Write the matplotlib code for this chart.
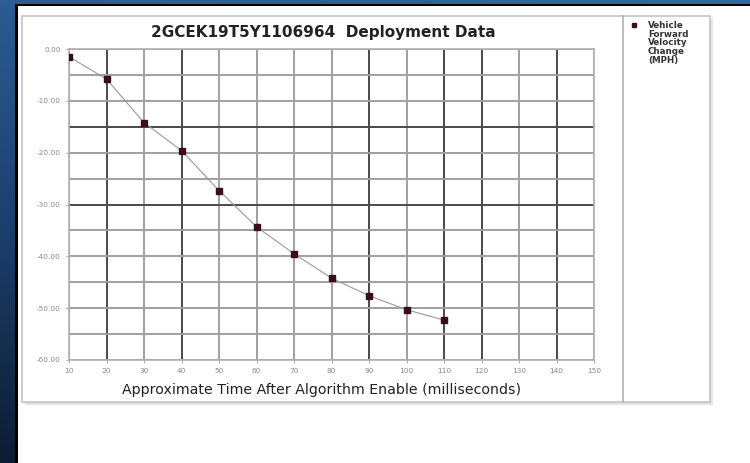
import numpy as np
import matplotlib
matplotlib.use("Agg")
import matplotlib.pyplot as plt
from matplotlib.patches import Rectangle
from matplotlib.lines import Line2D

# data
times = [10, 20, 30, 40, 50, 60, 70, 80, 90, 100, 110]
dv = [-1.5, -5.8, -14.2, -19.6, -27.3, -34.3, -39.5, -44.2, -47.6, -50.3, -52.3]
x_ticks = list(range(10, 151, 10))
y_ticks = [0, -10, -20, -30, -40, -50, -60]
title = "2GCEK19T5Y1106964  Deployment Data"
xlabel = "Approximate Time After Algorithm Enable (milliseconds)"
legend_label = "Vehicle\nForward\nVelocity\nChange\n(MPH)"

W, H = 750, 463
fig = plt.figure(figsize=(7.5, 4.63), dpi=100)
fig.patch.set_facecolor("white")

def fr(x0, y0, x1, y1):
    # pixel box (top-left origin) -> figure fraction rect
    return [x0 / W, 1 - y1 / H, (x1 - x0) / W, (y1 - y0) / H]

# blue slide background on the left and top
bg = fig.add_axes(fr(0, 0, 15, H))
grad = np.linspace(0, 1, 256).reshape(-1, 1)
cmap = matplotlib.colors.LinearSegmentedColormap.from_list("b", ["#2c5c92", "#1b3f6c", "#0d1c33"])
bg.imshow(grad, aspect="auto", cmap=cmap, extent=[0, 1, 0, 1])
bg.axis("off")
top = fig.add_axes(fr(0, 0, W, 4))
top.imshow(np.linspace(0, 1, 256).reshape(1, -1), aspect="auto",
           cmap=matplotlib.colors.LinearSegmentedColormap.from_list("t", ["#2c5c92", "#2b6aa0"]),
           extent=[0, 1, 0, 1])
top.axis("off")
fig.patches.append(Rectangle((15 / W, 0), 3 / W, 1 - 4 / H, transform=fig.transFigure,
                             facecolor="black", edgecolor="none", zorder=5))
fig.patches.append(Rectangle((15 / W, 1 - 6 / H), 1 - 15 / W, 2 / H, transform=fig.transFigure,
                             facecolor="black", edgecolor="none", zorder=5))

# chart panel with shadow
fig.patches.append(Rectangle((25 / W, 1 - 405 / H), 688 / W, 387 / H, transform=fig.transFigure,
                             facecolor="#e4e4e4", edgecolor="none", zorder=1))
fig.patches.append(Rectangle((22 / W, 1 - 402 / H), 688 / W, 386 / H, transform=fig.transFigure,
                             facecolor="white", edgecolor="#c4c4c4", linewidth=1.2, zorder=2))
fig.lines.append(Line2D([623 / W, 623 / W], [1 - 402 / H, 1 - 16 / H], transform=fig.transFigure,
                        color="#b0b0b0", linewidth=1.2, zorder=3))

ax = fig.add_axes(fr(69, 49, 594, 360))
ax.set_zorder(4)
ax.set_xlim(10, 150)
ax.set_ylim(-60, 0)

dark_x = [20, 40, 90, 110, 120, 140]
dark_y = [-15, -30]
for x in x_ticks:
    c = "#4a4a4a" if x in dark_x else "#a0a0a0"
    ax.axvline(x, color=c, linewidth=1.4, zorder=1)
for y in range(0, -61, -5):
    c = "#4a4a4a" if y in dark_y else "#a0a0a0"
    ax.axhline(y, color=c, linewidth=1.4, zorder=1)

ax.plot(times, dv, color="#999999", linewidth=0.8, zorder=2)
ax.plot(times, dv, linestyle="none", marker="s", markersize=4.5,
        color="#3a0d1c", zorder=3)

ax.set_xticks(x_ticks)
ax.set_xticklabels([str(v) for v in x_ticks])
ax.set_yticks(y_ticks)
ax.set_yticklabels(["%.2f" % v for v in y_ticks])
ax.tick_params(axis="both", length=2, width=0.6, colors="#9a9a9a", labelsize=5.3,
               labelcolor="#8a8a8a", pad=4)
for s in ax.spines.values():
    s.set_color("#b0b0b0")
    s.set_linewidth(1.2)

fig.text(323 / W, 1 - 33 / H, title, ha="center", va="center", fontsize=11,
         fontweight="bold", family="DejaVu Sans", color="#222222")
fig.text(322 / W, 1 - 390 / H, xlabel, ha="center", va="center", fontsize=10.2,
         family="DejaVu Sans", color="#222222")

# legend
fig.lines.append(Line2D([634 / W], [1 - 25 / H], transform=fig.transFigure, marker="s",
                        markersize=3.5, color="#3a0d1c", linestyle="none", zorder=6))
fig.text(648 / W, 1 - 21 / H, legend_label, ha="left", va="top", fontsize=6.3,
         fontweight="bold", family="DejaVu Sans", color="#333333", linespacing=0.95,
         zorder=6)

fig.savefig("out.png", dpi=100)
